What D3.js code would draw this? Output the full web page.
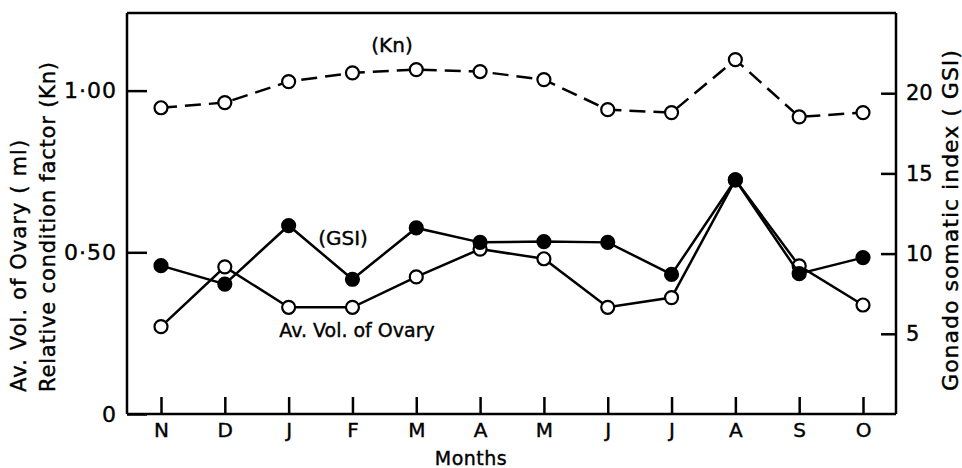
<!DOCTYPE html>
<html>
<head>
<meta charset="utf-8">
<script src="https://d3js.org/d3.v7.min.js"></script>
<style>
    body { margin: 0; background: white; }
    text { font-family: "DejaVu Sans", sans-serif; fill: black; stroke: black; stroke-width: 0.4; }
    .axis path, .axis line { stroke: black; stroke-width: 2.5; }
    .axis text { font-size: 21px; font-family: "DejaVu Sans", sans-serif; }
</style>
</head>
<body>
<svg width="962" height="468"></svg>
<script>
    // data
    const months = ['N', 'D', 'J', 'F', 'M', 'A', 'M', 'J', 'J', 'A', 'S', 'O'];
    const kn = [0.947, 0.963, 1.028, 1.055, 1.065, 1.059, 1.034, 0.941, 0.932, 1.096, 0.919, 0.932];
    const ovaryVol = [0.27, 0.455, 0.33, 0.33, 0.424, 0.51, 0.48, 0.33, 0.36, 0.724, 0.458, 0.337];
    const gsi = [9.25, 8.1, 11.75, 8.4, 11.6, 10.7, 10.75, 10.7, 8.7, 14.6, 8.75, 9.75];
    const leftTicks = [0, 0.5, 1];
    const leftTickLabels = ['0', '0·50', '1·00'];
    const rightTicks = [5, 10, 15, 20];

    const svg = d3.select('svg');
    const plotLeft = 127, plotRight = 896, plotTop = 13, plotBottom = 414;

    const x = d3.scalePoint().domain(d3.range(months.length)).range([161, 863]);
    const yL = d3.scaleLinear().domain([0, 1.24]).range([plotBottom, plotTop]);
    const yR = d3.scaleLinear().domain([0, 25]).range([plotBottom, plotTop]);

    // frame top
    svg.append('line')
        .attr('x1', plotLeft).attr('x2', plotRight).attr('y1', plotTop).attr('y2', plotTop)
        .attr('stroke', 'black').attr('stroke-width', 2.5);

    svg.append('g').attr('class', 'axis')
        .attr('transform', 'translate(0,' + plotBottom + ')')
        .call(d3.axisBottom(x).tickSizeInner(-17).tickSizeOuter(0).tickPadding(9)
            .tickFormat(i => months[i]))
        .call(g => g.select('.domain').attr('d', 'M' + plotLeft + ',0H' + plotRight))
        .call(g => g.selectAll('text').style('font-size', '20px'));

    svg.append('g').attr('class', 'axis')
        .attr('transform', 'translate(' + plotLeft + ',0)')
        .call(d3.axisLeft(yL).tickValues(leftTicks).tickSizeInner(-20).tickSizeOuter(0).tickPadding(10)
            .tickFormat((d, i) => leftTickLabels[i]))
        .call(g => g.select('.domain').attr('d', 'M0,' + plotTop + 'V' + plotBottom))
        .call(g => g.selectAll('text').style('font-size', '22px').style('letter-spacing', '1px'));

    svg.append('g').attr('class', 'axis')
        .attr('transform', 'translate(' + plotRight + ',0)')
        .call(d3.axisRight(yR).tickValues(rightTicks).tickSizeInner(-15).tickSizeOuter(0).tickPadding(10))
        .call(g => g.select('.domain').attr('d', 'M0,' + plotTop + 'V' + plotBottom));

    function series(values, y, dashed, filled) {
        const line = d3.line().x((d, i) => x(i)).y(d => y(d));
        svg.append('path')
            .datum(values)
            .attr('d', line)
            .attr('fill', 'none')
            .attr('stroke', 'black')
            .attr('stroke-width', 2.5)
            .attr('stroke-dasharray', dashed ? '16,8' : null);
        svg.append('g').selectAll('circle')
            .data(values)
            .enter()
            .append('circle')
            .attr('cx', (d, i) => x(i))
            .attr('cy', d => y(d))
            .attr('r', 6.5)
            .attr('fill', filled ? 'black' : 'white')
            .attr('stroke', 'black')
            .attr('stroke-width', 2.2);
    }

    series(kn, yL, true, false);
    series(ovaryVol, yL, false, false);
    series(gsi, yR, false, true);

    // series labels
    svg.append('text').attr('x', 392).attr('y', 52).attr('text-anchor', 'middle')
        .style('font-size', '20px').text('(Kn)');
    svg.append('text').attr('x', 343).attr('y', 245).attr('text-anchor', 'middle')
        .style('font-size', '20px').text('(GSI)');
    svg.append('text').attr('x', 357).attr('y', 337).attr('text-anchor', 'middle')
        .style('font-size', '19px').text('Av. Vol. of Ovary');

    // axis titles
    svg.append('text').attr('transform', 'translate(26,392) rotate(-90)')
        .style('font-size', '21px').style('letter-spacing', '1.1px').text('Av. Vol. of Ovary ( ml)');
    svg.append('text').attr('transform', 'translate(55,392) rotate(-90)')
        .style('font-size', '21px').style('letter-spacing', '0.8px').text('Relative condition factor (Kn)');
    svg.append('text').attr('transform', 'translate(958,220) rotate(-90)')
        .attr('text-anchor', 'middle')
        .style('font-size', '22px').style('letter-spacing', '1px').text('Gonado somatic index ( GSI)');
    svg.append('text').attr('x', 471).attr('y', 465).attr('text-anchor', 'middle')
        .style('font-size', '19px').style('letter-spacing', '0.5px').text('Months');
</script>
</body>
</html>
